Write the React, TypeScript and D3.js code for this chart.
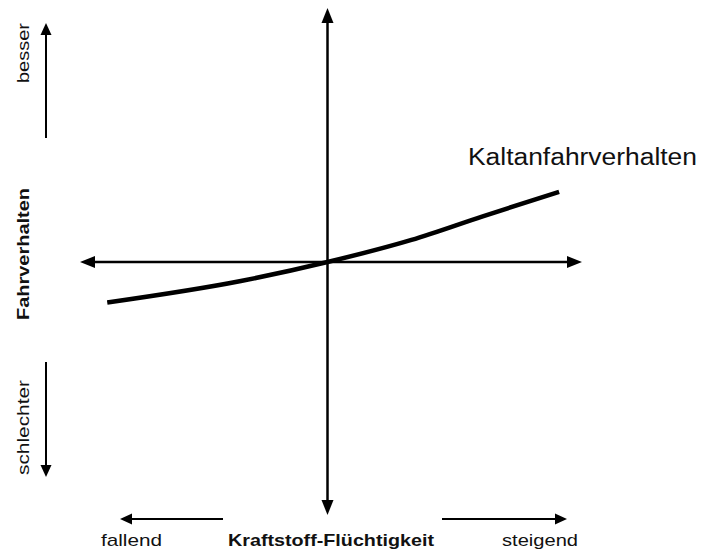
import React from "react";
import * as d3 from "d3";

// Normalised diagram coordinates: axes run from -1 to 1, origin at 0
const axisExtent = [-1, 0, 1];
// Kaltanfahrverhalten curve
const curveX = [-0.89, -0.35, 0, 0.33, 0.61, 0.91];
const curveY = [-0.16, -0.075, 0, 0.087, 0.18, 0.276];
const curveLabel = "Kaltanfahrverhalten";
const xTitle = "Kraftstoff-Flüchtigkeit";
const xLowLabel = "fallend";
const xHighLabel = "steigend";
const yTitle = "Fahrverhalten";
const yHighLabel = "besser";
const yLowLabel = "schlechter";

const W = 701;
const H = 553;

const x = d3.scaleLinear().domain(axisExtent).range([80, 327.5, 582]);
const y = d3.scaleLinear().domain(axisExtent).range([515, 262, 8]);

function arrowHead(tx: number, ty: number, dx: number, dy: number, len: number, wid: number) {
  const n = Math.hypot(dx, dy);
  const ux = dx / n, uy = dy / n;
  const bx = tx - ux * len, by = ty - uy * len;
  const px = -uy * (wid / 2), py = ux * (wid / 2);
  return `M${tx},${ty}L${bx + px},${by + py}L${bx - px},${by - py}Z`;
}

function Arrow({ x1, y1, x2, y2, sw, len, wid }: { x1: number; y1: number; x2: number; y2: number; sw: number; len: number; wid: number }) {
  const dx = x2 - x1, dy = y2 - y1;
  const n = Math.hypot(dx, dy);
  const ex = x2 - (dx / n) * (len - 2), ey = y2 - (dy / n) * (len - 2);
  return (
    <g>
      <line x1={x1} y1={y1} x2={ex} y2={ey} stroke="#000" strokeWidth={sw} />
      <path d={arrowHead(x2, y2, dx, dy, len, wid)} fill="#000" />
    </g>
  );
}

export default function App() {
  const pts: [number, number][] = curveX.map((v, i) => [x(v), y(curveY[i])]);
  const line = d3.line().curve(d3.curveMonotoneX)(pts) || "";
  const font = "Arial, 'Liberation Sans', sans-serif";
  const txt = "#111";
  return (
    <svg width={W} height={H} style={{ position: "absolute", left: 0, top: 0, background: "#fff" }} fontFamily={font}>
      <rect width={W} height={H} fill="#fff" />
      {/* main axes */}
      <Arrow x1={x(0)} y1={y(0)} x2={x(0)} y2={y(1)} sw={2.5} len={15} wid={12} />
      <Arrow x1={x(0)} y1={y(0)} x2={x(0)} y2={y(-1)} sw={2.5} len={15} wid={12} />
      <Arrow x1={x(0)} y1={y(0)} x2={x(-1)} y2={y(0)} sw={2.5} len={15} wid={12} />
      <Arrow x1={x(0)} y1={y(0)} x2={x(1)} y2={y(0)} sw={2.5} len={15} wid={12} />
      {/* curve */}
      <path d={line} fill="none" stroke="#000" strokeWidth={4.5} />
      <text x={468} y={165} fontSize={23} fill={txt} textLength={229} lengthAdjust="spacingAndGlyphs">{curveLabel}</text>
      {/* left side */}
      <Arrow x1={46} y1={138} x2={46} y2={23} sw={2} len={12} wid={11} />
      <Arrow x1={46} y1={362} x2={46} y2={477} sw={2} len={12} wid={11} />
      <text transform="translate(28.5,83) rotate(-90)" fontSize={17} fill={txt} textLength={60} lengthAdjust="spacingAndGlyphs">{yHighLabel}</text>
      <text transform="translate(28.5,320) rotate(-90)" fontSize={17} fontWeight="bold" fill={txt} textLength={132} lengthAdjust="spacingAndGlyphs">{yTitle}</text>
      <text transform="translate(28.5,475) rotate(-90)" fontSize={17} fill={txt} textLength={95} lengthAdjust="spacingAndGlyphs">{yLowLabel}</text>
      {/* bottom */}
      <Arrow x1={223} y1={519} x2={120} y2={519} sw={2} len={12} wid={11} />
      <Arrow x1={442} y1={519} x2={567} y2={519} sw={2} len={12} wid={11} />
      <text x={101} y={546} fontSize={17} fill={txt} textLength={61} lengthAdjust="spacingAndGlyphs">{xLowLabel}</text>
      <text x={228} y={546} fontSize={17} fontWeight="bold" fill={txt} textLength={206} lengthAdjust="spacingAndGlyphs">{xTitle}</text>
      <text x={502} y={546} fontSize={17} fill={txt} textLength={76} lengthAdjust="spacingAndGlyphs">{xHighLabel}</text>
    </svg>
  );
}
